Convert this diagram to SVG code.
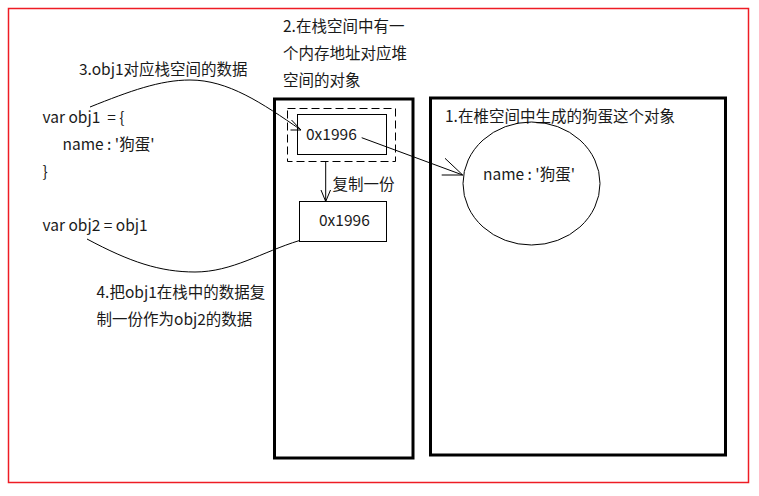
<svg xmlns="http://www.w3.org/2000/svg" width="759" height="496" viewBox="0 0 759 496">
  <style>
    text { font-family: "Noto Sans CJK SC", "Noto Sans", sans-serif; font-size: 15.5px; fill: #1a1a1a; }
    .frame { fill: none; stroke: #000; stroke-width: 3; }
    .box { fill: none; stroke: #000; stroke-width: 1; }
    .line { fill: none; stroke: #000; stroke-width: 1; }
  </style>
  <rect width="759" height="496" fill="#fff"/>
  <!-- outer border -->
  <rect x="8.5" y="8.5" width="740" height="474" fill="none" stroke="#ee1c24" stroke-width="1.5"/>

  <!-- code on the left -->
  <g id="code">
    <text x="42.5" y="123">var obj1 &#160;= {</text>
    <text x="62.5" y="150">name : '狗蛋'</text>
    <text x="42.5" y="177">}</text>
    <text x="42.5" y="231">var obj2 = obj1</text>
  </g>

  <g id="note-3"><text x="79" y="75">3.obj1对应栈空间的数据</text></g>
  <g id="note-4">
    <text x="96.5" y="298">4.把obj1在栈中的数据复</text>
    <text x="96.5" y="325">制一份作为obj2的数据</text>
  </g>
  <g id="note-2">
    <text x="283" y="32">2.在栈空间中有一</text>
    <text x="283" y="59">个内存地址对应堆</text>
    <text x="283" y="86">空间的对象</text>
  </g>

  <!-- stack space -->
  <g id="stack">
    <rect class="frame" x="274.5" y="99" width="138.5" height="359"/>
    <rect class="box" x="287.5" y="108.5" width="108" height="53" stroke-dasharray="8,4"/>
    <rect class="box" x="297.5" y="114.5" width="89" height="40"/>
    <text x="306" y="140">0x1996</text>
  </g>
  <g id="stack-copy">
    <rect class="box" x="299.5" y="201.5" width="87" height="40"/>
    <text x="319" y="226">0x1996</text>
  </g>
  <g id="copy-label"><text x="332.5" y="190">复制一份</text></g>

  <!-- heap space -->
  <g id="heap">
    <rect class="frame" x="430.5" y="98" width="295" height="357"/>
    <text x="445" y="122">1.在椎空间中生成的狗蛋这个对象</text>
  </g>
  <g id="heap-object">
    <ellipse class="box" cx="531.5" cy="183.5" rx="68.5" ry="61.5"/>
    <text x="483" y="180">name : '狗蛋'</text>
  </g>

  <!-- connectors -->
  <g id="connectors">
    <path class="line" d="M90,107 C130,91 160,80 190,80 C228,80 262,103 301,130"/>
    <path class="line" d="M290.5,130 H301 M291.5,120 L301,130"/>
    <path class="line" d="M325.7,162 V201.5 M321,190 L325.7,201.5 L330.5,190"/>
    <path class="line" d="M361.7,137.7 L462.7,175 M445,158.3 L462.7,175 H441.7"/>
    <path class="line" d="M87,239 C130,262 160,272 195,272 C232,272 262,252 299.5,240.5"/>
  </g>
</svg>
